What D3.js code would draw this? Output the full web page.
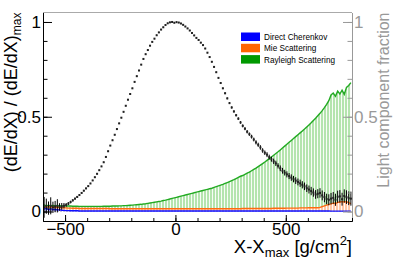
<!DOCTYPE html>
<html>
<head>
<meta charset="utf-8">
<script src="https://cdn.jsdelivr.net/npm/d3@7"></script>
<style>
  html, body { margin: 0; padding: 0; background: #fff; }
  svg { display: block; font-family: "Liberation Sans", Arial, sans-serif; }
</style>
</head>
<body>
<svg id="vis" width="396" height="261"></svg>
<script>
// bins of 10 g/cm2, centres from -595 to 795
var binCentres = d3.range(-595, 800, 10);

// energy deposit profile, normalised to max
var profile = [
  0.022,0.028,0.018,0.03,0.022,0.026,0.03,0.024,0.027,0.031,
  0.035,0.042,0.05,0.059,0.068,0.077,0.087,0.098,0.11,0.122,
  0.134,0.148,0.164,0.181,0.199,0.218,0.238,0.26,0.288,0.318,
  0.348,0.376,0.405,0.435,0.465,0.495,0.526,0.558,0.59,0.62,
  0.65,0.684,0.714,0.744,0.775,0.805,0.83,0.852,0.875,0.895,
  0.912,0.93,0.945,0.96,0.972,0.984,0.993,0.998,1.0,0.996,
  0.999,0.997,0.992,0.985,0.976,0.966,0.955,0.942,0.929,0.916,
  0.905,0.891,0.878,0.86,0.838,0.815,0.79,0.763,0.735,0.705,
  0.678,0.65,0.624,0.597,0.572,0.549,0.528,0.508,0.49,0.47,
  0.452,0.437,0.421,0.408,0.395,0.38,0.365,0.352,0.338,0.322,
  0.31,0.3,0.287,0.276,0.265,0.254,0.241,0.228,0.215,0.205,
  0.196,0.187,0.179,0.171,0.163,0.156,0.149,0.141,0.133,0.123,
  0.116,0.108,0.1,0.09,0.094,0.098,0.085,0.076,0.066,0.062,
  0.068,0.072,0.062,0.078,0.08,0.065,0.082,0.076,0.07,0.068
];
var profileErr = [
  0.055,0.04,0.035,0.045,0.03,0.03,0.035,0.02,0.018,0.014,
  0.01,0.008,0.007,0.006,0.005,0.005,0.005,0.004,0.004,0.004,
  0.003,0.003,0.003,0.003,0.003,0.003,0.003,0.003,0.003,0.003,
  0.003,0.003,0.003,0.003,0.003,0.003,0.003,0.003,0.003,0.003,
  0.003,0.003,0.003,0.003,0.003,0.003,0.003,0.003,0.003,0.003,
  0.003,0.003,0.003,0.003,0.003,0.003,0.003,0.003,0.003,0.003,
  0.003,0.003,0.003,0.003,0.003,0.003,0.003,0.003,0.003,0.003,
  0.003,0.003,0.003,0.003,0.003,0.003,0.003,0.003,0.003,0.003,
  0.004,0.004,0.005,0.005,0.005,0.006,0.006,0.006,0.007,0.007,
  0.008,0.008,0.009,0.009,0.01,0.01,0.011,0.011,0.012,0.012,
  0.012,0.013,0.013,0.013,0.014,0.014,0.014,0.015,0.015,0.015,
  0.016,0.016,0.017,0.017,0.018,0.018,0.019,0.019,0.02,0.02,
  0.021,0.022,0.022,0.023,0.024,0.025,0.026,0.027,0.028,0.029,
  0.03,0.031,0.032,0.032,0.033,0.034,0.035,0.036,0.036,0.037
];

// light component fractions
var rayleigh = [
  0.035,0.03,0.033,0.028,0.032,0.03,0.029,0.031,0.03,0.03,
  0.03,0.029,0.029,0.028,0.028,0.028,0.027,0.027,0.027,0.027,
  0.027,0.027,0.027,0.027,0.027,0.027,0.027,0.028,0.028,0.028,
  0.028,0.029,0.029,0.029,0.03,0.03,0.031,0.031,0.032,0.033,
  0.034,0.035,0.036,0.037,0.038,0.04,0.041,0.043,0.045,0.047,
  0.049,0.051,0.053,0.055,0.058,0.06,0.063,0.066,0.069,0.072,
  0.075,0.078,0.081,0.084,0.087,0.09,0.093,0.096,0.099,0.102,
  0.105,0.108,0.111,0.114,0.117,0.12,0.123,0.127,0.131,0.135,
  0.139,0.143,0.148,0.153,0.158,0.163,0.168,0.174,0.18,0.186,
  0.19,0.196,0.202,0.208,0.215,0.222,0.229,0.237,0.245,0.253,
  0.261,0.27,0.279,0.288,0.297,0.306,0.315,0.325,0.335,0.345,
  0.355,0.365,0.375,0.385,0.395,0.405,0.415,0.425,0.435,0.446,
  0.457,0.468,0.48,0.492,0.505,0.518,0.532,0.548,0.565,0.585,
  0.615,0.625,0.608,0.635,0.62,0.64,0.618,0.655,0.665,0.68
];
var mie = [
  0.025,0.02,0.028,0.022,0.026,0.02,0.024,0.022,0.02,0.02,
  0.019,0.018,0.018,0.017,0.017,0.017,0.016,0.016,0.016,0.016,
  0.016,0.016,0.016,0.016,0.016,0.016,0.016,0.016,0.016,0.016,
  0.015,0.015,0.015,0.015,0.015,0.015,0.015,0.015,0.015,0.015,
  0.015,0.015,0.015,0.015,0.015,0.015,0.015,0.015,0.015,0.015,
  0.015,0.015,0.015,0.015,0.015,0.015,0.015,0.015,0.015,0.015,
  0.015,0.015,0.015,0.015,0.015,0.015,0.015,0.015,0.015,0.015,
  0.015,0.015,0.015,0.015,0.015,0.015,0.015,0.015,0.015,0.015,
  0.015,0.015,0.015,0.015,0.015,0.015,0.015,0.015,0.015,0.015,
  0.016,0.016,0.016,0.016,0.016,0.016,0.016,0.016,0.016,0.016,
  0.016,0.016,0.016,0.016,0.017,0.017,0.017,0.017,0.017,0.017,
  0.018,0.018,0.018,0.018,0.018,0.018,0.019,0.019,0.019,0.019,
  0.02,0.02,0.02,0.02,0.02,0.022,0.026,0.03,0.034,0.038,
  0.04,0.044,0.042,0.048,0.05,0.052,0.05,0.052,0.047,0.042
];
var cherenkov = [
  0.012,0.018,0.008,0.015,0.01,0.012,0.008,0.01,0.006,0.006,
  0.005,0.005,0.004,0.004,0.004,0.004,0.003,0.003,0.003,0.003,
  0.003,0.003,0.003,0.003,0.003,0.003,0.003,0.003,0.003,0.003,
  0.003,0.003,0.003,0.003,0.003,0.003,0.003,0.003,0.003,0.003,
  0.003,0.003,0.003,0.003,0.003,0.003,0.003,0.003,0.003,0.003,
  0.003,0.003,0.003,0.003,0.003,0.003,0.003,0.003,0.003,0.003,
  0.003,0.003,0.003,0.003,0.003,0.003,0.003,0.003,0.003,0.003,
  0.003,0.003,0.003,0.003,0.003,0.003,0.003,0.003,0.003,0.003,
  0.003,0.003,0.003,0.003,0.003,0.003,0.003,0.003,0.003,0.003,
  0.003,0.003,0.003,0.003,0.003,0.003,0.003,0.003,0.003,0.003,
  0.003,0.003,0.003,0.003,0.003,0.003,0.003,0.003,0.003,0.003,
  0.003,0.003,0.003,0.003,0.003,0.003,0.003,0.003,0.003,0.003,
  0.003,0.003,0.003,0.003,0.003,0.003,0.003,0.003,0.003,0.003,
  0.002,0.002,0.002,0.002,0.002,0.002,0.002,0.002,0.002,0.002
];

var legendLabels = ["Direct Cherenkov", "Mie Scattering", "Rayleigh Scattering"];
var xMajorTicks = [-500, 0, 500];
var yMajorTicks = [0, 0.5, 1];

var padLeft = 43, padRight = 352, padTop = 12.5, padBottom = 221;
var svg = d3.select("#vis");

var x = d3.scaleLinear().domain([-600, 800]).range([padLeft, padRight]);
var y = d3.scaleLinear().domain([-0.05, 1.05]).range([padBottom, padTop]);

// hatch patterns (ROOT-ish vertical fill)
var defs = svg.append("defs");
function hatch(id, col)
{
    var p = defs.append("pattern").attr("id", id)
        .attr("patternUnits", "userSpaceOnUse")
        .attr("width", 3).attr("height", 3);
    p.append("rect").attr("width", 3).attr("height", 3).attr("fill", col);
    p.append("rect").attr("x", 2).attr("width", 1).attr("height", 3).attr("fill", "#fff").attr("opacity", 0.9);
}
hatch("hGreen", "#b4e4ae");
hatch("hOrange", "#ffc6a4");
hatch("hBlue", "#a8a8ff");

var series = [
    {vals: rayleigh, line: "#22aa22", fill: "url(#hGreen)"},
    {vals: mie, line: "#ff6a10", fill: "url(#hOrange)"},
    {vals: cherenkov, line: "#1010ff", fill: "url(#hBlue)"}
];

var plot = svg.append("g");

series.forEach(function(s)
{
    var area = d3.area()
        .x(function(d, i) { return x(binCentres[i]); })
        .y0(y(0))
        .y1(function(d) { return y(d); });
    plot.append("path").datum(s.vals)
        .attr("d", area).attr("fill", s.fill);
});
series.forEach(function(s)
{
    var line = d3.line()
        .x(function(d, i) { return x(binCentres[i]); })
        .y(function(d) { return y(d); });
    plot.append("path").datum(s.vals)
        .attr("d", line).attr("fill", "none")
        .attr("stroke", s.line).attr("stroke-width", 1.4);
});

// profile points with error bars
var pts = plot.append("g").selectAll("g")
    .data(profile.map(function(v, i) { return {x: binCentres[i], v: v, e: profileErr[i]}; }))
    .enter().append("g");
pts.append("line")
    .attr("x1", function(d) { return x(d.x); })
    .attr("x2", function(d) { return x(d.x); })
    .attr("y1", function(d) { return y(d.v - d.e); })
    .attr("y2", function(d) { return y(d.v + d.e); })
    .attr("stroke", "#000").attr("stroke-width", 1);
pts.append("rect")
    .attr("x", function(d) { return x(d.x) - 1; })
    .attr("y", function(d) { return y(d.v) - 1; })
    .attr("width", 2).attr("height", 2).attr("fill", "#222");

// frame top
svg.append("line").attr("x1", padLeft).attr("x2", padRight).attr("y1", padTop).attr("y2", padTop)
    .attr("stroke", "#aaa").attr("stroke-width", 1);

// axes
var fmtY = function(d) { return d3.format("~g")(d); };
var gLeft = svg.append("g").attr("transform", "translate(" + padLeft + ",0)");
gLeft.call(d3.axisLeft(y).tickValues(d3.range(0, 1.01, 0.1)).tickSize(-4.5).tickSizeOuter(0).tickFormat(""));
gLeft.append("g").call(d3.axisLeft(y).tickValues(yMajorTicks).tickSize(-9).tickSizeOuter(0).tickPadding(2).tickFormat(fmtY));

var gRight = svg.append("g").attr("transform", "translate(" + padRight + ",0)");
gRight.call(d3.axisRight(y).tickValues(d3.range(0, 1.01, 0.1)).tickSize(-4.5).tickSizeOuter(0).tickFormat(""));
gRight.append("g").call(d3.axisRight(y).tickValues(yMajorTicks).tickSize(-9).tickSizeOuter(0).tickPadding(2).tickFormat(fmtY));

var gBottom = svg.append("g").attr("transform", "translate(0," + padBottom + ")");
gBottom.call(d3.axisBottom(x).tickValues(d3.range(-600, 801, 100)).tickSize(-3).tickSizeOuter(0).tickFormat(""));
gBottom.append("g").call(d3.axisBottom(x).tickValues(xMajorTicks).tickSize(-6).tickSizeOuter(0).tickPadding(2));

svg.selectAll(".tick text").attr("font-size", 17).attr("font-family", "Liberation Sans, Arial, sans-serif").attr("fill", "#000");
gRight.selectAll("line, path").attr("stroke", "#999");
gRight.selectAll(".tick text").attr("fill", "#999");
svg.selectAll(".domain").attr("stroke-width", 1);

// axis titles
var yt = svg.append("text")
    .attr("transform", "translate(17," + padTop + ") rotate(-90)")
    .attr("text-anchor", "end").attr("font-size", 18).attr("fill", "#000");
yt.append("tspan").text("(dE/dX) / (dE/dX)");
yt.append("tspan").attr("font-size", 12).attr("dy", 4).text("max");

svg.append("text")
    .attr("transform", "translate(389," + padTop + ") rotate(-90)")
    .attr("text-anchor", "end").attr("font-size", 16).attr("fill", "#999")
    .text("Light component fraction");

var xt = svg.append("text")
    .attr("x", padRight).attr("y", 253)
    .attr("text-anchor", "end").attr("font-size", 18.5).attr("fill", "#000");
xt.append("tspan").text("X-X");
xt.append("tspan").attr("font-size", 13).attr("dy", 4).text("max");
xt.append("tspan").attr("dy", -4).text(" [g/cm");
xt.append("tspan").attr("font-size", 13).attr("dy", -8).text("2");
xt.append("tspan").attr("dy", 8).text("]");

// legend
var legColors = ["#0000ff", "#ff6600", "#009900"];
var leg = svg.append("g").selectAll("g").data(legendLabels).enter().append("g")
    .attr("transform", function(d, i) { return "translate(241," + (32.5 + i * 11.3) + ")"; });
leg.append("rect").attr("width", 19).attr("height", 8.5)
    .attr("fill", function(d, i) { return legColors[i]; });
leg.append("text").attr("x", 23).attr("y", 7.5).attr("font-size", 8.2).attr("fill", "#000")
    .text(function(d) { return d; });
</script>
</body>
</html>
